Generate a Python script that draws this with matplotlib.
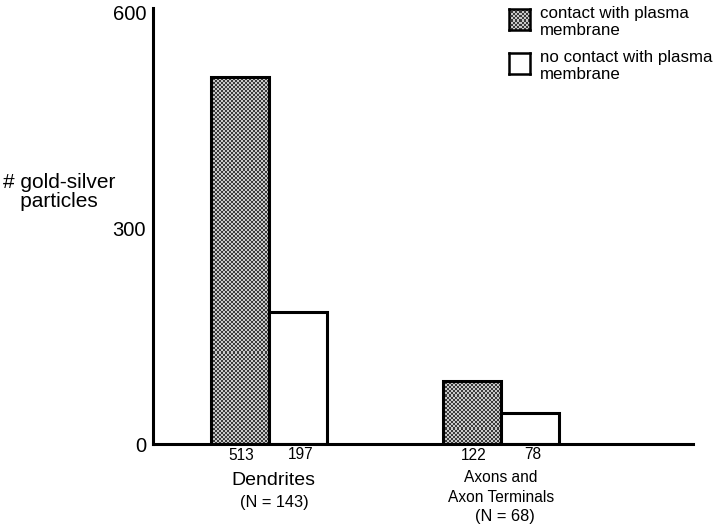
import numpy as np
import matplotlib.pyplot as plt
from matplotlib.colors import ListedColormap

plt.rcParams['font.family'] = ['Liberation Sans', 'DejaVu Sans']

# bar heights as drawn in the figure, printed counts under the bars
contact = [510, 88]
no_contact = [183, 43]
contact_labels = ['513', '122']
no_contact_labels = ['197', '78']
groups = ['Dendrites', 'Axons and\nAxon Terminals']
group_n = ['(N = 143)', '(N = 68)']
yticks = [0, 300, 600]
legend_labels = ['contact with plasma\nmembrane', 'no contact with plasma\nmembrane']

W, H = 720, 528
STIPPLE = ListedColormap(['#3a3a3a', '#c8c8c8'])


def checker(nx, ny):
    """Fine 2-pixel checkerboard used as the stipple texture."""
    i, j = np.indices((ny, nx))
    return (i + j) % 2


def stipple_bar(ax, bar):
    # fill a bar with the stipple texture, clipped to the bar outline
    x0, y0 = bar.get_x(), bar.get_y()
    w, h = bar.get_width(), bar.get_height()
    bb = bar.get_window_extent()
    nx = max(int(bb.width / 2), 1)
    ny = max(int(bb.height / 2), 1)
    im = ax.imshow(checker(nx, ny), cmap=STIPPLE, interpolation='nearest',
                   extent=[x0, x0 + w, y0, y0 + h], aspect='auto', zorder=1.5)
    im.set_clip_path(bar)


fig = plt.figure(figsize=(7.2, 5.28), dpi=100)
ax = fig.add_axes([153 / W, 1 - 444 / H, 540 / W, 432 / H])
ax.set_xlim(0, 540 / 58)
ax.set_ylim(0, 600)

pos = [1, 5]
lw = 2.2
for i, x in enumerate(pos):
    b = ax.bar(x, contact[i], width=1, align='edge', color='#7a7a7a',
               edgecolor='black', linewidth=lw, zorder=2)[0]
    b.set_facecolor('none')
    stipple_bar(ax, b)
    ax.bar(x + 1, no_contact[i], width=1, align='edge', color='white',
           edgecolor='black', linewidth=lw, zorder=2)

ax.set_xlim(0, 540 / 58)
ax.set_ylim(0, 600)
ax.spines['top'].set_visible(False)
ax.spines['right'].set_visible(False)
ax.spines['left'].set_linewidth(lw)
ax.spines['bottom'].set_linewidth(lw)
ax.spines['bottom'].set_zorder(3)
ax.spines['left'].set_bounds(0, 605)
ax.set_xticks([])
ax.set_yticks(yticks)
ax.set_yticklabels([str(t) for t in yticks], fontsize=14.5)
ax.tick_params(axis='y', length=0, pad=5)

for i, x in enumerate(pos):
    ax.annotate(contact_labels[i], (x + 0.5, 0), xytext=(1, -8),
                textcoords='offset points', ha='center', va='center', fontsize=11.2)
    ax.annotate(no_contact_labels[i], (x + 1.5, 0), xytext=(2, -7.5),
                textcoords='offset points', ha='center', va='center', fontsize=11.2)

# group labels
ax.annotate(groups[0], (2.08, 0), xytext=(0, -26), textcoords='offset points',
            ha='center', va='center', fontsize=14)
ax.annotate(group_n[0], (2.1, 0), xytext=(0, -42), textcoords='offset points',
            ha='center', va='center', fontsize=11.8)
ax.annotate(groups[1], (6.0, 0), xytext=(0, -31.5), textcoords='offset points',
            ha='center', va='center', fontsize=11.2, linespacing=1.45)
ax.annotate(group_n[1], (6.07, 0), xytext=(0, -52.5), textcoords='offset points',
            ha='center', va='center', fontsize=11.8)

fig.text(3 / W, 1 - 192 / H, '# gold-silver\n   particles', fontsize=15,
         ha='left', va='center', linespacing=1.05)

# legend drawn by hand to match the layout
lx, bw, bh = 509, 21, 21
for k, (ytop, lab) in enumerate(zip([9, 53], legend_labels)):
    box = fig.add_axes([lx / W, 1 - (ytop + bh) / H, bw / W, bh / H])
    box.set_xticks([])
    box.set_yticks([])
    for s in box.spines.values():
        s.set_linewidth(1.8)
    if k == 0:
        box.imshow(checker(bw // 2, bh // 2), cmap=STIPPLE,
                   interpolation='nearest', aspect='auto')
    fig.text(540 / W, 1 - (ytop + 13) / H, lab, fontsize=12.2, ha='left',
             va='center', linespacing=1.2)

fig.savefig('out.png', dpi=100)
